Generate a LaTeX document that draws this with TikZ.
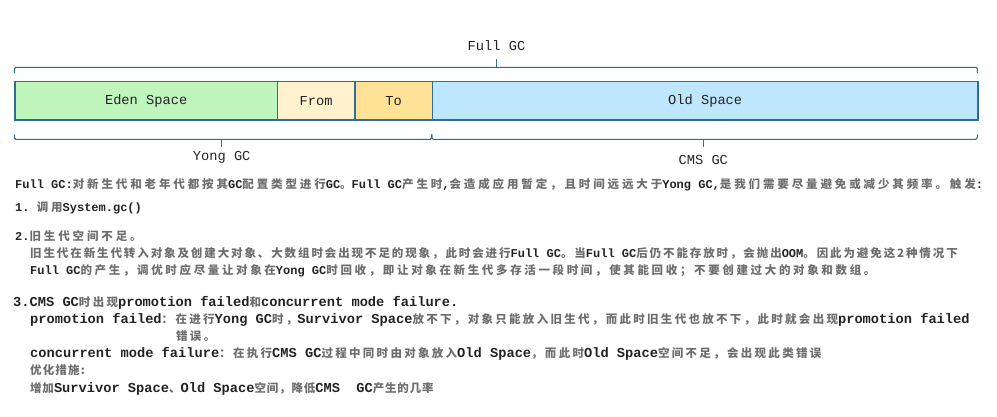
\documentclass[tikz,border=0pt]{standalone}
\usepackage{fontspec}
\setmonofont{Liberation Mono}
\newfontfamily\cjkA[LetterSpace=25]{Noto Sans CJK SC}
\newfontfamily\cjkB[LetterSpace=16.5]{Noto Sans CJK SC}
\newfontfamily\cjkC[LetterSpace=20]{Noto Sans CJK SC}
\newfontfamily\cjkD[LetterSpace=23]{Noto Sans CJK SC}
\newfontfamily\cjkE[LetterSpace=7]{Noto Sans CJK SC}
\newfontfamily\cjkF[LetterSpace=10]{Noto Sans CJK SC}
\let\curcjk\cjkC
\definecolor{edge}{RGB}{45,110,150}
\definecolor{edenc}{RGB}{193,245,190}
\definecolor{fromc}{RGB}{255,242,205}
\definecolor{toc}{RGB}{255,226,150}
\definecolor{oldc}{RGB}{190,230,252}
\definecolor{zhgray}{RGB}{110,110,110}
\definecolor{txt}{RGB}{35,35,35}
\newcommand\zh[1]{{\curcjk\fontsize{11.5}{13}\selectfont\color{zhgray}#1}}
\begin{document}
\begin{tikzpicture}[x=1pt,y=-1pt,
  mem/.style={draw=edge,line width=1.3pt,minimum height=38.6pt,inner sep=0pt,anchor=north west,
    font=\ttfamily\fontsize{13.7}{15}\selectfont,text=txt},
  brace/.style={draw=edge,line width=1.1pt,rounded corners=1.5pt},
  lbl/.style={font=\ttfamily\fontsize{13.7}{15}\selectfont,text=txt,inner sep=0pt},
  body/.style={anchor=base west,inner sep=0pt,font=\ttfamily\bfseries\fontsize{12}{13}\selectfont,text=txt},
  bigbody/.style={anchor=base west,inner sep=0pt,font=\ttfamily\bfseries\fontsize{13.7}{15}\selectfont,text=txt},
  zA/.style={execute at begin node=\let\curcjk\cjkA},
  zB/.style={execute at begin node=\let\curcjk\cjkB},
  zD/.style={execute at begin node=\let\curcjk\cjkD},
  zE/.style={execute at begin node=\let\curcjk\cjkE},
  zF/.style={execute at begin node=\let\curcjk\cjkF}]
\useasboundingbox (0,0) rectangle (997,416);
% memory boxes
\node[mem,fill=edenc,minimum width=262.4pt] (eden) at (14.3,80.7) {Eden Space};
\node[mem,fill=fromc,minimum width=77.6pt] (from) at (276.7,80.7) {From};
\node[mem,fill=toc,minimum width=77.4pt] (to) at (354.3,80.7) {To};
\node[mem,fill=oldc,minimum width=545.7pt] (old) at (431.7,80.7) {Old Space};
% labels
\node[lbl] (full) at (496.5,45.7) {Full GC};
\node[lbl] (yong) at (221.7,157.7) {Yong GC};
\node[lbl] (cms) at (703.3,160) {CMS GC};
% top brace
\coordinate (tl) at (14.3,73);
\coordinate (tr) at (977.4,73);
\coordinate (tc) at (496.5,59);
\draw[brace] (tl) -- (14.3,67.3) -- (977.4,67.3) -- (tr);
\draw[brace] (496.5,67.3) -- (tc);
% yong brace
\coordinate (yl) at (14.3,134.3);
\coordinate (yr) at (431.7,134.3);
\coordinate (yc) at (221.7,146.5);
\draw[brace] (yl) -- (14.3,139.3) -- (431.7,139.3) -- (yr);
\draw[brace] (221.7,139.3) -- (yc);
% cms brace
\coordinate (cr) at (977.4,134.3);
\coordinate (cc) at (703.3,146.5);
\draw[brace] (yr) -- (431.7,139.3) -- (977.4,139.3) -- (cr);
\draw[brace] (703.3,139.3) -- (cc);
% body text
\node[body,zA] (l1) at (15,188) {Full GC:\zh{对新生代和老年代都按其}GC\zh{配置类型进行}GC\zh{。}Full GC\zh{产生时},\zh{会造成应用暂定，且时间远远大于}Yong GC,\zh{是我们需要尽量避免或减少其频率。触发}:};
\node[body,zA] (l2) at (15,211) {1. \zh{调用}System.gc()};
\node[body,zA] (l3) at (15,240) {2.\zh{旧生代空间不足。}};
\node[body,zB] (l4) at (30,257) {\zh{旧生代在新生代转入对象及创建大对象、大数组时会出现不足的现象，此时会进行}Full GC\zh{。当}Full GC\zh{后仍不能存放时，会抛出}OOM\zh{。因此为避免这2种情况下}};
\node[body,zD] (l5) at (30,274) {Full GC\zh{的产生，调优时应尽量让对象在}Yong GC\zh{时回收，即让对象在新生代多存活一段时间，使其能回收；不要创建过大的对象和数组。}};
\node[bigbody] (l6) at (13,306) {3.CMS GC\zh{时出现}promotion failed\zh{和}concurrent mode failure.};
\node[bigbody] (l7) at (30,323) {promotion failed\zh{：在进行}Yong GC\zh{时，}Survivor Space\zh{放不下，对象只能放入旧生代，而此时旧生代也放不下，此时就会出现}promotion failed};
\node[bigbody] (l8) at (176,340) {\zh{错误。}};
\node[bigbody] (l9) at (30,357) {concurrent mode failure\zh{：在执行}CMS GC\zh{过程中同时由对象放入}Old Space\zh{，而此时}Old Space\zh{空间不足，会出现此类错误}};
\node[bigbody,zF] (l10) at (30,374) {\zh{优化措施:}};
\node[bigbody,zE] (l11) at (30,392) {\zh{增加}Survivor Space\zh{、}Old Space\zh{空间，降低}CMS~~GC\zh{产生的几率}};
\end{tikzpicture}
\end{document}
